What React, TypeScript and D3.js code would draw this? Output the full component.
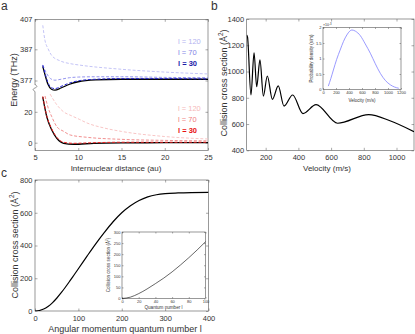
import React, { useRef, useEffect } from 'react';
import * as d3 from 'd3';

const FONT = '"Liberation Sans", Arial, Helvetica, sans-serif';
const AXIS = '#555555';
const INK = '#333333';

type Pt = [number, number];

// ---- panel a: energy vs internuclear distance
const aDistTicks = [5, 10, 15, 20, 25];
const aUpperTicks = [377, 387, 407];
const aLowerTicks = [0, 20];
const aLabelText = ['l = 120', 'l = 70', 'l = 30'];

// upper branch [distance (au), energy (THz)]
const aUpBlack: Pt[] = [[5.9, 381.5], [6.2, 378.4], [6.5, 375.8], [6.9, 374.2], [7.3, 373.9], [8, 374.6], [9, 375.8], [10, 376.6], [12, 377.2], [15, 377.4], [20, 377.4], [25, 377.4]];
const aUpL30: Pt[] = [[5.9, 381.9], [6.2, 378.9], [6.5, 376.3], [6.9, 374.7], [7.3, 374.4], [8, 375.1], [9, 376.2], [10, 376.9], [12, 377.4], [15, 377.6], [20, 377.6], [25, 377.5]];
const aUpL70: Pt[] = [[5.9, 382], [6.3, 379.5], [6.8, 377.6], [7.3, 377.1], [8, 377.4], [9, 377.9], [10, 378.1], [12, 378.2], [15, 378.2], [20, 378], [25, 377.9]];
const aUpL120: Pt[] = [[5.9, 403], [6.15, 393], [6.5, 387.5], [6.94, 385], [7.9, 383.3], [9.07, 382.4], [10, 382], [15, 380.6], [20, 379.7], [25, 379.1]];

// lower branch
const aLoBlack: Pt[] = [[5.9, 29.5], [6.36, 16.8], [6.94, 8.2], [7.52, 2.8], [8.3, -0.4], [9.45, -1.0], [11.8, -0.4], [15, -0.1], [20, 0], [25, 0]];
const aLoL30: Pt[] = [[5.9, 30], [6.36, 17.4], [6.94, 8.9], [7.52, 3.5], [8.3, 0.3], [9.45, -0.4], [11.8, 0], [15, 0.3], [20, 0.3], [25, 0.3]];
const aLoL70: Pt[] = [[6.16, 30.2], [6.5, 23], [6.94, 16.8], [7.52, 10.4], [8.3, 7.4], [9.07, 5], [11, 3.5], [14.9, 2.2], [20, 1.5], [25, 1.2]];
const aLoL120: Pt[] = [[6.74, 31.5], [7.4, 25.5], [8.3, 20], [9.2, 17.5], [10.1, 15.2], [11, 12.8], [13, 9.5], [15, 7.3], [20, 4], [25, 2.4]];

// ---- panel b: cross section vs velocity
const bVelTicks = [200, 400, 600, 800, 1000];
const bCrossTicks = [400, 600, 800, 1000, 1200, 1400];
const bCross: Pt[] = [[84, 1278], [89, 1262], [110, 821], [129, 1143], [145, 884], [165, 1088], [186, 813], [210, 966], [241, 788], [277, 890], [312, 737], [365, 821], [428, 680], [508, 748], [640, 606], [830, 672], [960, 625], [1107, 542]];

// inset: velocity distribution (x1e-3 s/m)
const bInVelTicks = [0, 200, 400, 600, 800, 1000, 1200];
const bInDensTicks = [0, 0.5, 1, 1.5, 2];
const bDensity: Pt[] = [[82, 0.11], [120, 0.35], [160, 0.63], [210, 0.97], [263, 1.27], [315, 1.55], [367, 1.76], [410, 1.88], [444, 1.92], [500, 1.88], [573, 1.74], [650, 1.47], [728, 1.17], [805, 0.83], [882, 0.52], [960, 0.29], [1037, 0.15], [1100, 0.08], [1166, 0.04]];

// ---- panel c: cross section vs angular momentum l
const cLTicks = [0, 100, 200, 300, 400];
const cCrossTicks = [0, 200, 400, 600, 800];
const cCross: Pt[] = [[0, 0], [10, 3], [20, 12], [30, 28], [40, 50], [50, 78], [60, 110], [70, 145], [80, 182], [90, 220], [100, 258], [120, 335], [140, 410], [160, 480], [180, 545], [200, 600], [220, 643], [240, 675], [260, 697], [280, 710], [300, 717], [330, 721], [360, 723], [400, 724]];

const cInLTicks = [0, 20, 40, 60, 80, 100];
const cInCrossTicks = [0, 50, 100, 150, 200, 250, 300];
const cInset: Pt[] = [[0, 0], [10, 6], [20, 22], [30, 43], [40, 67], [50, 92], [60, 120], [70, 151], [80, 184], [90, 219], [100, 256]];

function styleAxis(sel: any, fs: number) {
    sel.select('.domain').remove();
    sel.attr('font-size', null).attr('font-family', null);
    sel.selectAll('line').attr('stroke', AXIS).attr('stroke-width', 0.5);
    sel.selectAll('text').attr('fill', INK).attr('font-size', fs).attr('font-family', FONT);
}

// matlab style box: inward ticks on all four sides, labels bottom/left
function frame(g: any, x: any, y: any, xt: number[], yt: number[], box: any, o: any) {
    const { l, r, t, b } = box;
    const blank = () => '';
    g.append('rect')
        .attr('x', l).attr('y', t).attr('width', r - l).attr('height', b - t)
        .attr('fill', o.fill || 'none').attr('stroke', AXIS).attr('stroke-width', 0.6);
    g.append('g').attr('transform', `translate(0,${b})`)
        .call(d3.axisBottom(x).tickValues(xt).tickSize(-o.ts).tickPadding(o.xpad).tickFormat(o.xfmt || d3.format('d')))
        .call(styleAxis, o.fs);
    g.append('g').attr('transform', `translate(0,${t})`)
        .call(d3.axisTop(x).tickValues(xt).tickSize(-o.ts).tickFormat(blank))
        .call(styleAxis, o.fs);
    g.append('g').attr('transform', `translate(${l},0)`)
        .call(d3.axisLeft(y).tickValues(yt).tickSize(-o.ts).tickPadding(o.ypad).tickFormat(o.yfmt || d3.format('d')))
        .call(styleAxis, o.fs);
    g.append('g').attr('transform', `translate(${r},0)`)
        .call(d3.axisRight(y).tickValues(yt).tickSize(-o.ts).tickFormat(blank))
        .call(styleAxis, o.fs);
}

function label(g: any, txt: string, x: number, y: number, fs: number, rotate = false, sup = false) {
    const t = g.append('text')
        .attr('font-family', FONT).attr('font-size', fs).attr('fill', INK)
        .attr('text-anchor', 'middle')
        .attr('transform', rotate ? `translate(${x},${y}) rotate(-90)` : `translate(${x},${y})`);
    if (sup) {
        t.append('tspan').text(txt + ' (Å');
        t.append('tspan').attr('dy', -fs * 0.4).attr('font-size', fs * 0.7).text('2');
        t.append('tspan').attr('dy', fs * 0.4).text(')');
    } else {
        t.text(txt);
    }
}

function clip(svg: any, id: string, box: any) {
    svg.select('defs').append('clipPath').attr('id', id)
        .append('rect').attr('x', box.l).attr('y', box.t).attr('width', box.r - box.l).attr('height', box.b - box.t);
}

function drawA(svg: any) {
    const g = svg.append('g');
    const box = { l: 35, r: 208, t: 19.3, b: 150.5 };
    const x = d3.scaleLinear().domain([5, 25]).range([box.l, box.r]);
    const yU = d3.scaleLinear().domain([377, 387, 407]).range([80.5, 49.3, 19.3]);
    const yL = d3.scaleLinear().domain([0, 20]).range([142.7, 111.8]);
    const o = { ts: 2.5, fs: 7.5, xpad: 4, ypad: 2.5 };

    g.append('rect').attr('x', box.l).attr('y', box.t).attr('width', box.r - box.l).attr('height', box.b - box.t)
        .attr('fill', 'none').attr('stroke', AXIS).attr('stroke-width', 0.6);
    const blank = () => '';
    g.append('g').attr('transform', `translate(0,${box.b})`)
        .call(d3.axisBottom(x).tickValues(aDistTicks).tickSize(-o.ts).tickPadding(o.xpad))
        .call(styleAxis, o.fs);
    g.append('g').attr('transform', `translate(0,${box.t})`)
        .call(d3.axisTop(x).tickValues(aDistTicks).tickSize(-o.ts).tickFormat(blank))
        .call(styleAxis, o.fs);
    [[yU, aUpperTicks], [yL, aLowerTicks]].forEach(([s, tv]: any) => {
        g.append('g').attr('transform', `translate(${box.l},0)`)
            .call(d3.axisLeft(s).tickValues(tv).tickSize(-o.ts).tickPadding(o.ypad).tickFormat(d3.format('d')))
            .call(styleAxis, o.fs);
        g.append('g').attr('transform', `translate(${box.r},0)`)
            .call(d3.axisRight(s).tickValues(tv).tickSize(-o.ts).tickFormat(blank))
            .call(styleAxis, o.fs);
    });
    // axis break
    g.append('rect').attr('x', box.l - 2).attr('y', 85).attr('width', 4).attr('height', 6.5).attr('fill', '#fff');
    g.append('path').attr('d', `M${box.l},84.5 C${box.l + 2.5},86 ${box.l + 2.5},87 ${box.l},88 C${box.l - 2.5},89 ${box.l - 2.5},90 ${box.l},91.5`)
        .attr('fill', 'none').attr('stroke', AXIS).attr('stroke-width', 0.6);

    clip(svg, 'clipA', box);
    const plot = g.append('g').attr('clip-path', 'url(#clipA)');
    const lineU = d3.line<Pt>().x(d => x(d[0])).y(d => yU(d[1])).curve(d3.curveMonotoneX);
    const lineL = d3.line<Pt>().x(d => x(d[0])).y(d => yL(d[1])).curve(d3.curveMonotoneX);

    plot.append('path').attr('d', lineU(aUpBlack)).attr('fill', 'none').attr('stroke', '#000').attr('stroke-width', 1.3);
    plot.append('path').attr('d', lineL(aLoBlack)).attr('fill', 'none').attr('stroke', '#000').attr('stroke-width', 1.3);

    const blue = ['#c4c4f6', '#9494ee', '#2626d4'];
    const red = ['#f8c6c6', '#f29090', '#ee2020'];
    [aUpL120, aUpL70, aUpL30].forEach((d, i) => {
        plot.append('path').attr('d', lineU(d)).attr('fill', 'none').attr('stroke', blue[i])
            .attr('stroke-width', 1).attr('stroke-dasharray', '3,1.8');
    });
    [aLoL120, aLoL70, aLoL30].forEach((d, i) => {
        plot.append('path').attr('d', lineL(d)).attr('fill', 'none').attr('stroke', red[i])
            .attr('stroke-width', 1).attr('stroke-dasharray', '3,1.8');
    });

    const blueTxt = ['#b4b4f0', '#8484e6', '#1a1aa8'];
    const redTxt = ['#f6b8b8', '#f08080', '#e81010'];
    aLabelText.forEach((t, i) => {
        g.append('text').attr('x', 178).attr('y', 43.5 + i * 11.3).attr('font-family', FONT).attr('font-size', 7.5)
            .attr('fill', blueTxt[i]).attr('font-weight', i === 2 ? 'bold' : 'normal').text(t);
        g.append('text').attr('x', 178).attr('y', 111 + i * 11).attr('font-family', FONT).attr('font-size', 7.5)
            .attr('fill', redTxt[i]).attr('font-weight', i === 2 ? 'bold' : 'normal').text(t);
    });

    label(g, 'Internuclear distance (au)', 116, 170.5, 8);
    label(g, 'Energy (THz)', 16.5, 80, 9, true);
    g.append('text').attr('x', 1).attr('y', 10).attr('font-family', FONT).attr('font-size', 12).attr('fill', INK).text('a');
}

function drawB(svg: any) {
    const g = svg.append('g');
    const box = { l: 246.7, r: 414, t: 19, b: 150.3 };
    const x = d3.scaleLinear().domain([84, 1107]).range([box.l, box.r]);
    const y = d3.scaleLinear().domain([400, 1400]).range([box.b, box.t]);
    frame(g, x, y, bVelTicks, bCrossTicks, box, { ts: 2.5, fs: 7.5, xpad: 4.5, ypad: 2.5 });

    clip(svg, 'clipB', box);
    const line = d3.line<Pt>().x(d => x(d[0])).y(d => y(d[1])).curve(d3.curveMonotoneX);
    g.append('g').attr('clip-path', 'url(#clipB)').append('path').attr('d', line(bCross))
        .attr('fill', 'none').attr('stroke', '#000').attr('stroke-width', 1.2);

    label(g, 'Velocity (m/s)', 327, 171, 8);
    label(g, 'Collision cross section', 226.5, 83, 9, true, true);
    g.append('text').attr('x', 211).attr('y', 10).attr('font-family', FONT).attr('font-size', 12).attr('fill', INK).text('b');

    // inset
    const ib = { l: 323, r: 401, t: 27.5, b: 89.5 };
    const ix = d3.scaleLinear().domain([0, 1200]).range([ib.l, ib.r]);
    const iy = d3.scaleLinear().domain([0, 2]).range([ib.b, ib.t]);
    frame(g, ix, iy, bInVelTicks, bInDensTicks, ib, { ts: 1.5, fs: 4, xpad: 1.5, ypad: 1.5, fill: '#fff', yfmt: d3.format('') });
    const il = d3.line<Pt>().x(d => ix(d[0])).y(d => iy(d[1])).curve(d3.curveMonotoneX);
    g.append('path').attr('d', il(bDensity)).attr('fill', 'none').attr('stroke', '#8080ff').attr('stroke-width', 0.8);
    label(g, 'Velocity (m/s)', 362, 101.5, 4.5);
    label(g, 'Probability density (s/m)', 313, 58.5, 4.5, true);
    const e = g.append('text').attr('x', ib.l).attr('y', 26.3).attr('font-family', FONT).attr('font-size', 3.6).attr('fill', INK);
    e.append('tspan').text('×10');
    e.append('tspan').attr('dy', -1.2).attr('font-size', 2.8).text('-3');
}

function drawC(svg: any) {
    const g = svg.append('g');
    const box = { l: 35, r: 208.5, t: 180, b: 311 };
    const x = d3.scaleLinear().domain([0, 400]).range([box.l, box.r]);
    const y = d3.scaleLinear().domain([0, 800]).range([box.b, box.t]);
    frame(g, x, y, cLTicks, cCrossTicks, box, { ts: 2.5, fs: 7.5, xpad: 4.5, ypad: 2.5 });

    clip(svg, 'clipC', box);
    const line = d3.line<Pt>().x(d => x(d[0])).y(d => y(d[1])).curve(d3.curveMonotoneX);
    g.append('g').attr('clip-path', 'url(#clipC)').append('path').attr('d', line(cCross))
        .attr('fill', 'none').attr('stroke', '#000').attr('stroke-width', 1.2);

    label(g, 'Angular momentum quantum number l', 125, 332, 9);
    label(g, 'Collision cross section', 17.5, 245, 9, true, true);
    g.append('text').attr('x', 1).attr('y', 177).attr('font-family', FONT).attr('font-size', 12).attr('fill', INK).text('c');

    // inset
    const ib = { l: 122, r: 205.5, t: 232, b: 298.5 };
    const ix = d3.scaleLinear().domain([0, 100]).range([ib.l, ib.r]);
    const iy = d3.scaleLinear().domain([0, 300]).range([ib.b, ib.t]);
    frame(g, ix, iy, cInLTicks, cInCrossTicks, ib, { ts: 1.5, fs: 4, xpad: 1.2, ypad: 1.5, fill: '#fff' });
    const il = d3.line<Pt>().x(d => ix(d[0])).y(d => iy(d[1])).curve(d3.curveMonotoneX);
    g.append('path').attr('d', il(cInset)).attr('fill', 'none').attr('stroke', '#000').attr('stroke-width', 0.6);
    label(g, 'Quantum number l', 163.5, 308.5, 4.6);
    label(g, 'Collision cross section', 110, 265, 4.6, true, true);
}

export default function App() {
    const ref = useRef<SVGSVGElement>(null);

    useEffect(() => {
        if (!ref.current) return;
        const svg = d3.select(ref.current);
        svg.selectAll('*').remove(); // clear first
        svg.append('defs');
        drawA(svg);
        drawB(svg);
        drawC(svg);
    }, []);

    return (
        <svg ref={ref} width={415} height={334}
            style={{ position: 'absolute', left: 0, top: 0, background: '#fff' }} />
    );
}
